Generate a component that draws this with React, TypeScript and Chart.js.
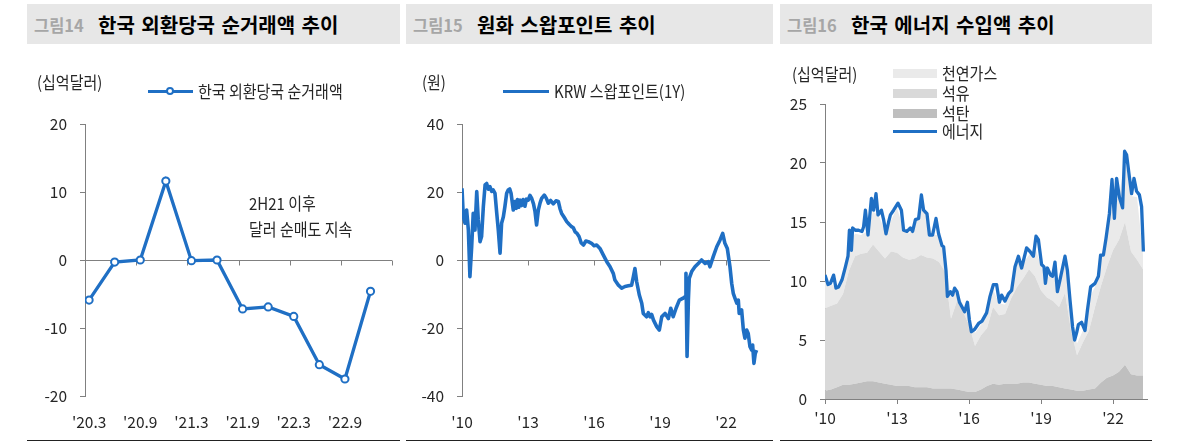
import React, { useEffect, useRef } from 'react';
import { Chart, registerables } from 'chart.js';

Chart.register(...registerables);

const FONT = "'Noto Sans CJK KR', 'Noto Sans', sans-serif";
const BLUE = '#1f6fc4';
const AXIS = '#808080';
const TEXT = '#262626';

// ---------- Panel 1: 한국 외환당국 순거래액 ----------
const fxCategories = ["'20.3", "'20.6", "'20.9", "'20.12", "'21.3", "'21.6", "'21.9", "'21.12", "'22.3", "'22.6", "'22.9", "'22.12"];
const fxValues = [-5.9, -0.3, 0.0, 11.6, -0.1, 0.0, -7.2, -6.9, -8.3, -15.4, -17.5, -4.6];
const fxLabelIndices = [0, 2, 4, 6, 8, 10];
const fxTickMarks = [1.84, 3.84, 5.84, 7.84, 9.84, 11.84];

// ---------- Panel 2: KRW 스왑포인트(1Y) ----------
const swapYears = [
  2010.00, 2010.06, 2010.14, 2010.21, 2010.29, 2010.36, 2010.44, 2010.51, 2010.59, 2010.67, 2010.74, 2010.82, 2010.89, 2010.97,
  2011.05, 2011.12, 2011.20, 2011.27, 2011.35, 2011.42, 2011.50, 2011.58, 2011.65, 2011.73, 2011.80, 2011.88, 2011.95,
  2012.03, 2012.10, 2012.17, 2012.23, 2012.33, 2012.41, 2012.47, 2012.52, 2012.58, 2012.65, 2012.71, 2012.78, 2012.86, 2012.93,
  2013.01, 2013.09, 2013.17, 2013.25, 2013.32, 2013.39, 2013.47, 2013.55, 2013.62, 2013.74, 2013.83, 2013.92,
  2014.03, 2014.15, 2014.27, 2014.38, 2014.46, 2014.53, 2014.65, 2014.76, 2014.87, 2014.98,
  2015.06, 2015.14, 2015.23, 2015.32, 2015.42, 2015.52, 2015.63, 2015.74, 2015.89,
  2016.00, 2016.12, 2016.27, 2016.42, 2016.58, 2016.73, 2016.88, 2016.95,
  2017.11, 2017.26, 2017.41, 2017.56, 2017.71, 2017.79, 2017.86, 2017.94,
  2018.06, 2018.17, 2018.24, 2018.39, 2018.47, 2018.55, 2018.62, 2018.70, 2018.85, 2018.97,
  2019.08, 2019.23, 2019.38, 2019.49, 2019.60, 2019.73, 2019.88,
  2020.03, 2020.14, 2020.18, 2020.23, 2020.29, 2020.33, 2020.44, 2020.59, 2020.74, 2020.89,
  2021.05, 2021.20, 2021.27, 2021.42, 2021.58, 2021.73, 2021.85, 2021.95,
  2022.06, 2022.18, 2022.26, 2022.33, 2022.41, 2022.49, 2022.56, 2022.60, 2022.71, 2022.79, 2022.86, 2022.94,
  2023.01, 2023.09, 2023.17, 2023.21, 2023.27, 2023.33, 2023.39,
];
const swapValues = [
  21.1, 12.7, 10.8, 14.7, 8.8, -4.9, 3.9, 13.7, 8.8, 20.1, 11.8, 5.4, 6.9, 15.7,
  22.1, 22.5, 20.8, 21.6, 20.2, 20.6, 19.6, 13.7, 8.8, 2.0, 10.8, 12.7, 15.7,
  19.6, 20.6, 20.9, 19.6, 14.7, 17.2, 15.2, 17.8, 15.5, 17.6, 16.0, 17.8, 15.8, 17.9,
  17.6, 19.0, 18.1, 16.5, 14.2, 10.3, 14.7, 16.8, 18.1, 19.1, 18.2, 16.7,
  17.5, 16.5, 17.4, 17.2, 15.0, 13.7, 12.5, 11.3, 10.5, 9.8,
  9.5, 8.3, 7.8, 6.9, 5.0, 4.4, 5.6, 5.4, 4.9,
  4.2, 4.4, 3.4, 1.5, -0.5, -2.0, -4.0, -5.9,
  -7.4, -8.3, -7.8, -7.6, -7.4, -4.9, -2.5, -6.4,
  -10.3, -12.7, -15.7, -16.7, -15.5, -16.7, -16.0, -17.6, -19.6, -20.6,
  -16.7, -15.7, -17.2, -14.2, -16.7, -14.2, -11.8,
  -11.3, -10.8, -3.9, -28.4, -11.8, -5.4, -3.4, -2.0, -1.0, 0.0,
  -1.0, -0.5, -2.0, 1.0, 3.9, 5.9, 7.8, 4.9,
  3.4, -2.0, -6.9, -9.8, -11.3, -12.7, -11.8, -15.7, -14.7, -20.6, -23.0, -20.6,
  -21.6, -25.5, -26.5, -25.0, -30.4, -27.5, -26.5,
];
const swapTickYears = [2010, 2013, 2016, 2019, 2022];
const swapTickMarks = [2013, 2016, 2019, 2022];

// ---------- Panel 3: 한국 에너지 수입액 (months since Jan 2010) ----------
const energyTickMonths = [0, 36, 72, 108, 144];
const energyTickLabels = ["'10", "'13", "'16", "'19", "'22"];
const areaMonths = [
  0, 3, 6, 9, 12, 15, 18, 21, 24, 27, 30, 33, 36, 39, 42, 45, 48, 51, 54, 57, 60, 63, 66, 69, 72, 75, 78,
  81, 84, 87, 90, 93, 96, 99, 102, 105, 108, 111, 114, 117, 120, 123, 126, 129, 132, 135, 138, 141, 144, 147, 150, 153, 156, 159,
];
const coalValues = [
  0.7, 0.8, 1.0, 1.2, 1.2, 1.3, 1.4, 1.5, 1.5, 1.4, 1.3, 1.2, 1.1, 1.1, 1.1, 1.0, 1.0, 1.0, 0.9, 0.9, 0.9, 0.9, 0.8, 0.7, 0.6, 0.6, 0.8,
  1.1, 1.3, 1.2, 1.3, 1.3, 1.3, 1.4, 1.4, 1.3, 1.2, 1.1, 1.1, 1.0, 0.9, 0.8, 0.7, 0.7, 0.8, 0.9, 1.4, 1.8, 2.0, 2.3, 2.9, 2.1, 2.0, 2.0,
];
const oilValues = [
  7.0, 7.1, 7.1, 7.7, 9.7, 10.8, 10.9, 10.9, 11.6, 11.1, 10.6, 11.3, 11.3, 10.9, 10.7, 10.9, 11.2, 11.0, 11.0, 10.7, 9.9, 5.9, 7.5, 6.7, 5.7, 3.9, 4.6,
  4.9, 6.5, 5.9, 5.9, 7.2, 8.2, 8.8, 9.6, 9.1, 8.0, 7.5, 7.2, 6.8, 8.1, 5.0, 3.0, 4.1, 5.0, 6.9, 8.2, 9.4, 10.6, 11.2, 12.1, 10.4, 9.8, 9.0,
];
const gasValues = [
  2.5, 1.8, 1.4, 1.3, 2.3, 1.9, 1.6, 1.8, 2.8, 3.0, 2.3, 2.6, 3.8, 2.5, 2.2, 2.8, 4.3, 3.4, 2.0, 2.3, 1.0, 1.8, 0.8, 0.6, 0.6, 1.1, 0.9,
  1.3, 1.5, 1.0, 0.8, 0.6, 2.0, 1.3, 1.2, 2.5, 2.1, 1.7, 2.2, 1.4, 2.8, 1.1, 1.0, 1.0, 2.7, 1.7, 2.3, 2.7, 4.1, 3.6, 5.5, 4.7, 5.3, 1.2,
];
const energyMonths = [
  0, 1.5, 2.7, 4.3, 5.5, 6.8, 8.5, 10.2, 11.5, 12.2, 13.2, 13.8, 15.2, 16.8, 18.5, 19.3, 20.2, 21.5, 23.2, 24.3, 25.5, 26.5,
  28.2, 29.3, 30.5, 31.8, 32.7, 34.3, 36.5, 38.2, 39.3, 41, 42.7, 43.8, 45.2, 46.8, 48.2, 49.3, 51, 52.2, 53.8, 55.5, 56.8,
  58.5, 59.3, 60.5, 61.2, 62.7, 63.8, 64.8, 66, 67.2, 68.5, 69.8, 71.2, 72.2, 73.2, 74.8, 76.8, 78.5, 80.8, 82.5, 84.2,
  85.8, 87.2, 88.3, 90, 91.7, 93.3, 95, 96.7, 98.3, 100.8, 102.5, 104.2, 105.5, 106.7, 108.3, 109.5, 110.2, 111.2, 112.8,
  113.8, 115, 116.2, 117.5, 120, 121.2, 122.5, 123.8, 124.8, 125.8, 126.7, 128.3, 130, 131.2, 132.8, 135, 136.7, 137.8,
  139.2, 140.5, 142.2, 143.5, 144.7, 145.8, 147.2, 148.8, 149.8, 150.8, 152.2, 153.3, 154.5, 155.8, 157.2, 158.3, 159.2,
];
const energyValues = [
  10.5, 9.7, 9.8, 10.5, 9.4, 9.5, 10.1, 11.2, 12.1, 14.3, 12.6, 14.5, 14.3, 14.3, 14.2, 14.6, 16.0, 13.9, 17.0, 16.0, 17.4, 15.6,
  16.0, 15.2, 14.0, 15.0, 15.6, 16.0, 16.6, 16.0, 14.3, 14.2, 14.5, 14.2, 15.2, 15.3, 17.3, 16.0, 15.7, 13.9, 13.9, 15.3, 14.0,
  13.0, 12.9, 10.9, 8.7, 9.1, 8.8, 9.4, 9.1, 8.2, 7.8, 7.4, 8.2, 6.7, 5.7, 5.9, 6.4, 6.6, 7.3, 8.7, 9.7,
  9.7, 8.2, 8.8, 8.3, 8.9, 9.2, 11.2, 12.1, 11.1, 12.8, 12.5, 12.1, 13.8, 13.5, 11.4, 11.2, 9.8, 11.1, 10.5,
  10.4, 11.6, 9.1, 10.1, 12.1, 10.9, 8.4, 6.1, 5.0, 5.6, 6.3, 6.5, 5.8, 7.5, 9.5, 9.8, 10.4, 12.2,
  12.2, 13.6, 15.7, 18.6, 15.3, 18.7, 17.1, 16.2, 21.0, 20.7, 18.8, 17.4, 18.7, 17.6, 17.3, 16.3, 12.5,
];

const CHART_TOP = 50;
const CHART_H = 390;

function zeroTickPlugin(values: number[]) {
  return {
    id: 'zeroTicks',
    beforeDatasetsDraw(chart: any) {
      const { ctx } = chart;
      const xs = chart.scales.x;
      const ys = chart.scales.y;
      const y0 = Math.round(ys.getPixelForValue(0)) + 0.5;
      ctx.save();
      ctx.strokeStyle = AXIS;
      ctx.lineWidth = 1;
      values.forEach((v) => {
        const px = Math.round(xs.getPixelForValue(v)) + 0.5;
        ctx.beginPath();
        ctx.moveTo(px, y0);
        ctx.lineTo(px, y0 + 5);
        ctx.stroke();
      });
      ctx.restore();
    },
  };
}

const tickFont = { family: FONT, size: 15.5 };

function yScale(min: number, max: number, step: number, width: number, zeroLine: boolean) {
  return {
    min,
    max,
    afterFit: (s: any) => {
      s.width = width;
    },
    ticks: { stepSize: step, padding: 13, font: tickFont, color: TEXT },
    border: { display: true, color: AXIS, width: 1 },
    grid: {
      drawTicks: true,
      tickLength: 5,
      tickColor: AXIS,
      color: (c: any) => (zeroLine && c.tick && c.tick.value === 0 ? AXIS : 'rgba(0,0,0,0)'),
    },
  };
}

function ChartBox({ left, width, build }: { left: number; width: number; build: () => any }) {
  const ref = useRef<HTMLCanvasElement>(null);
  useEffect(() => {
    const chart = new Chart(ref.current as HTMLCanvasElement, build());
    return () => chart.destroy();
  }, []);
  return (
    <canvas
      ref={ref}
      width={width}
      height={CHART_H}
      style={{ position: 'absolute', left, top: CHART_TOP, width, height: CHART_H, display: 'block' }}
    />
  );
}

function buildFx() {
  return {
    type: 'line',
    data: {
      datasets: [
        {
          data: fxValues.map((v, i) => ({ x: i, y: v })),
          borderColor: BLUE,
          borderWidth: 3.3,
          pointRadius: 3.6,
          pointBorderWidth: 2,
          pointBackgroundColor: '#ffffff',
          pointBorderColor: BLUE,
          tension: 0,
        },
      ],
    },
    options: {
      animation: false,
      responsive: false,
      layout: { padding: { top: 74, right: 8, left: 0, bottom: 0 } },
      plugins: { legend: { display: false }, tooltip: { enabled: false } },
      scales: {
        x: {
          type: 'linear',
          min: -0.16,
          max: 11.84,
          afterFit: (s: any) => {
            s.height = 44;
          },
          afterBuildTicks: (s: any) => {
            s.ticks = fxLabelIndices.map((v) => ({ value: v }));
          },
          ticks: {
            autoSkip: false,
            maxRotation: 0,
            padding: 9,
            font: tickFont,
            color: TEXT,
            callback: (v: any) => fxCategories[v as number],
          },
          grid: { display: false },
          border: { display: false },
        },
        y: yScale(-20, 20, 10, 58, true),
      },
    },
    plugins: [zeroTickPlugin(fxTickMarks)],
  };
}

function buildSwap() {
  return {
    type: 'line',
    data: {
      datasets: [
        {
          data: swapYears.map((x, i) => ({ x, y: swapValues[i] })),
          borderColor: BLUE,
          borderWidth: 3.6,
          pointRadius: 0,
          tension: 0,
          borderJoinStyle: 'round',
        },
      ],
    },
    options: {
      animation: false,
      responsive: false,
      layout: { padding: { top: 74, right: 3, left: 0, bottom: 0 } },
      plugins: { legend: { display: false }, tooltip: { enabled: false } },
      scales: {
        x: {
          type: 'linear',
          min: 2010,
          max: 2024,
          afterFit: (s: any) => {
            s.height = 44;
          },
          afterBuildTicks: (s: any) => {
            s.ticks = swapTickYears.map((v) => ({ value: v }));
          },
          ticks: {
            autoSkip: false,
            maxRotation: 0,
            padding: 9,
            font: tickFont,
            color: TEXT,
            callback: (v: any) => "'" + String(v).slice(2),
          },
          grid: { display: false },
          border: { display: false },
        },
        y: yScale(-40, 40, 20, 56, true),
      },
    },
    plugins: [zeroTickPlugin(swapTickMarks)],
  };
}

function buildEnergy() {
  const area = (vals: number[], color: string, fill: any) => ({
    data: areaMonths.map((x, i) => ({ x, y: vals[i] })),
    backgroundColor: color,
    borderWidth: 0,
    borderColor: color,
    pointRadius: 0,
    fill,
    stack: 'areas',
    order: 1,
    tension: 0,
  });
  return {
    type: 'line',
    data: {
      datasets: [
        area(coalValues, '#bfbfbf', 'origin'),
        area(oilValues, '#d9d9d9', '-1'),
        area(gasValues, '#eaeaea', '-1'),
        {
          data: energyMonths.map((x, i) => ({ x, y: energyValues[i] })),
          borderColor: BLUE,
          borderWidth: 3.3,
          pointRadius: 0,
          fill: false,
          stack: 'energy',
          order: 0,
          tension: 0,
          borderJoinStyle: 'round',
        },
      ],
    },
    options: {
      animation: false,
      responsive: false,
      layout: { padding: { top: 54, right: 5, left: 0, bottom: 0 } },
      plugins: { legend: { display: false }, tooltip: { enabled: false } },
      scales: {
        x: {
          type: 'linear',
          min: 0,
          max: 161,
          afterFit: (s: any) => {
            s.height = 41;
          },
          afterBuildTicks: (s: any) => {
            s.ticks = energyTickMonths.map((v) => ({ value: v }));
          },
          ticks: {
            autoSkip: false,
            maxRotation: 0,
            padding: 5,
            font: tickFont,
            color: TEXT,
            callback: (v: any) => energyTickLabels[energyTickMonths.indexOf(v as number)],
          },
          grid: { display: true, drawOnChartArea: false, drawTicks: true, tickLength: 5, color: AXIS, tickColor: AXIS },
          border: { display: true, color: AXIS, width: 1 },
        },
        y: { ...yScale(0, 25, 5, 45, false), stacked: true },
      },
    },
  };
}

const textStyle: React.CSSProperties = {
  position: 'absolute',
  fontFamily: FONT,
  fontSize: 15,
  color: TEXT,
  lineHeight: '18px',
  whiteSpace: 'nowrap',
  transform: 'translateY(-50%) scaleY(1.12)',
  transformOrigin: 'left center',
};

function Label({ left, cy, children, style }: { left: number; cy: number; children: React.ReactNode; style?: React.CSSProperties }) {
  return <div style={{ ...textStyle, left, top: cy, ...style }}>{children}</div>;
}

function TitleBar({ left, width, num, title }: { left: number; width: number; num: string; title: string }) {
  return (
    <div style={{ position: 'absolute', left, top: 4, width, height: 40, background: '#e7e7e7' }}>
      <div
        style={{
          position: 'absolute',
          left: 7,
          top: 21,
          transform: 'translateY(-50%)',
          fontFamily: FONT,
          fontWeight: 700,
          fontSize: 16.5,
          color: '#a6a6a6',
          whiteSpace: 'nowrap',
          lineHeight: '20px',
        }}
      >
        {num}
      </div>
      <div
        style={{
          position: 'absolute',
          left: 71,
          top: 21,
          transform: 'translateY(-50%)',
          fontFamily: FONT,
          fontWeight: 700,
          fontSize: 20,
          color: '#000',
          whiteSpace: 'nowrap',
          wordSpacing: 2,
          lineHeight: '24px',
        }}
      >
        {title}
      </div>
    </div>
  );
}

function Rule({ left, width }: { left: number; width: number }) {
  return <div style={{ position: 'absolute', left, top: 440, width, height: 1, background: '#222' }} />;
}

function Swatch({ left, cy, w, h, color }: { left: number; cy: number; w: number; h: number; color: string }) {
  return <div style={{ position: 'absolute', left, top: cy - h / 2, width: w, height: h, background: color }} />;
}

export default function App() {
  return (
    <div style={{ position: 'fixed', left: 0, top: 0, width: 1190, height: 445, background: '#fff', overflow: 'hidden' }}>
      {/* Panel 1 */}
      <TitleBar left={27} width={373} num="그림14" title="한국 외환당국 순거래액 추이" />
      <ChartBox left={27} width={373} build={buildFx} />
      <Label left={37} cy={82}>(십억달러)</Label>
      <Swatch left={148} cy={91} w={45} h={3} color={BLUE} />
      <div
        style={{
          position: 'absolute',
          left: 166,
          top: 87,
          width: 4,
          height: 4,
          borderRadius: '50%',
          border: `2px solid ${BLUE}`,
          background: '#fff',
        }}
      />
      <Label left={198} cy={91}>한국 외환당국 순거래액</Label>
      <Label left={249} cy={203}>2H21 이후</Label>
      <Label left={249} cy={229}>달러 순매도 지속</Label>
      <Rule left={27} width={373} />

      {/* Panel 2 */}
      <TitleBar left={406} width={367} num="그림15" title="원화 스왑포인트 추이" />
      <ChartBox left={406} width={367} build={buildSwap} />
      <Label left={422} cy={82}>(원)</Label>
      <Swatch left={503} cy={91} w={46} h={3} color={BLUE} />
      <Label left={554} cy={91}>KRW 스왑포인트(1Y)</Label>
      <Rule left={406} width={367} />

      {/* Panel 3 */}
      <TitleBar left={780} width={372} num="그림16" title="한국 에너지 수입액 추이" />
      <ChartBox left={780} width={372} build={buildEnergy} />
      <Label left={792} cy={74}>(십억달러)</Label>
      <Swatch left={893} cy={73} w={44} h={9} color="#eaeaea" />
      <Label left={942} cy={73}>천연가스</Label>
      <Swatch left={893} cy={93} w={44} h={9} color="#d9d9d9" />
      <Label left={942} cy={93}>석유</Label>
      <Swatch left={893} cy={113} w={44} h={9} color="#bfbfbf" />
      <Label left={942} cy={113}>석탄</Label>
      <Swatch left={893} cy={131} w={44} h={3} color={BLUE} />
      <Label left={942} cy={131}>에너지</Label>
      <Rule left={780} width={372} />
    </div>
  );
}
